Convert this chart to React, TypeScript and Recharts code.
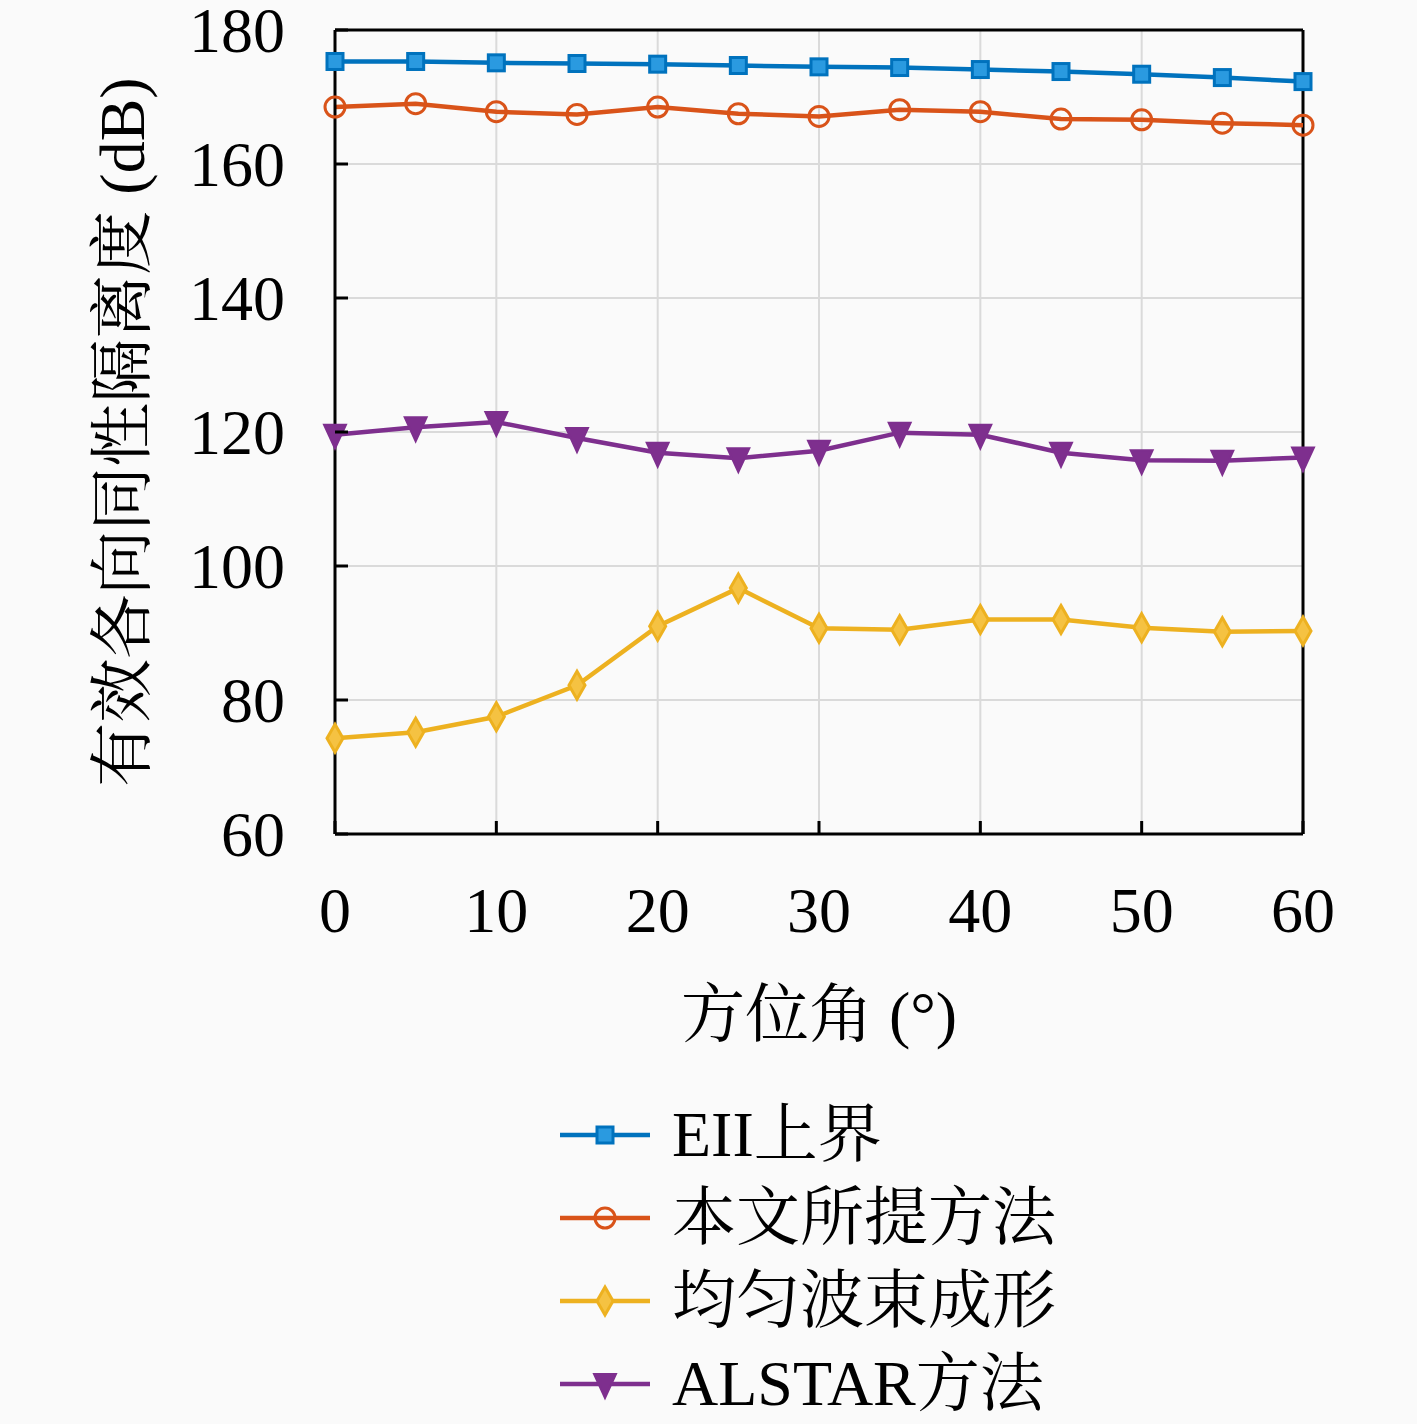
import React from 'react';
import { CartesianGrid, Line, LineChart, ReferenceLine, XAxis, YAxis } from 'recharts';

const angles = [0, 5, 10, 15, 20, 25, 30, 35, 40, 45, 50, 55, 60];
const eiiBound = [175.3, 175.3, 175.1, 175.0, 174.9, 174.7, 174.5, 174.4, 174.1, 173.8, 173.4, 172.9, 172.3];
const proposed = [168.5, 169.0, 167.8, 167.4, 168.5, 167.5, 167.1, 168.1, 167.8, 166.7, 166.6, 166.1, 165.8];
const uniformBeam = [74.3, 75.2, 77.5, 82.2, 91.0, 96.7, 90.7, 90.5, 92.0, 92.0, 90.8, 90.2, 90.3];
const alstar = [119.6, 120.7, 121.5, 119.1, 116.9, 116.1, 117.2, 119.9, 119.6, 116.9, 115.8, 115.7, 116.2];

const xTicks = [0, 10, 20, 30, 40, 50, 60];
const yTicks = [60, 80, 100, 120, 140, 160, 180];

const seriesNames = ['EII上界', '本文所提方法', '均匀波束成形', 'ALSTAR方法'];
const seriesKeys = ['eii', 'prop', 'uni', 'alstar'];
const seriesColors = ['#0072BD', '#D95319', '#EDB120', '#7E2F8E'];
const seriesShapes = ['square', 'circle', 'diamond', 'triangle'];

const data = angles.map((a, i) => ({
  angle: a,
  eii: eiiBound[i],
  prop: proposed[i],
  uni: uniformBeam[i],
  alstar: alstar[i],
}));

const SERIF = "'Liberation Serif', 'Noto Serif CJK SC', 'Noto Sans CJK SC', serif";
const W = 1417;
const H = 1424;

function Marker({ shape, cx, cy, color }: { shape: string; cx: number; cy: number; color: string }) {
  if (cx == null || cy == null) return null;
  if (shape === 'square') {
    return <rect x={cx - 8} y={cy - 8} width={16} height={16} fill="#2a9ae0" stroke={color} strokeWidth={3} />;
  }
  if (shape === 'circle') {
    return <circle cx={cx} cy={cy} r={10} fill="none" stroke={color} strokeWidth={3} />;
  }
  if (shape === 'diamond') {
    const d = `M${cx},${cy - 14} L${cx + 8},${cy} L${cx},${cy + 14} L${cx - 8},${cy} Z`;
    return <path d={d} fill="#f5c242" stroke={color} strokeWidth={3} />;
  }
  const t = `M${cx - 11},${cy - 10} L${cx + 11},${cy - 10} L${cx},${cy + 14} Z`;
  return <path d={t} fill={color} stroke={color} strokeWidth={2} />;
}

const YTick = (props: any) => {
  const { x, y, payload } = props;
  return (
    <g>
      <line x1={x} y1={y} x2={x + 13} y2={y} stroke="#000" strokeWidth={3} />
      <text x={x - 50} y={y + 22} textAnchor="end" fontFamily={SERIF} fontSize={64} fill="#000">
        {payload.value}
      </text>
    </g>
  );
};

const XTick = (props: any) => {
  const { x, y, payload } = props;
  return (
    <g>
      <line x1={x} y1={y} x2={x} y2={y - 13} stroke="#000" strokeWidth={3} />
      <text x={x} y={y + 98} textAnchor="middle" fontFamily={SERIF} fontSize={64} fill="#000">
        {payload.value}
      </text>
    </g>
  );
};

export default function App() {
  return (
    <div style={{ position: 'absolute', left: 0, top: 0, width: W, height: H, background: '#fafafa' }}>
      <LineChart width={W} height={H} data={data} margin={{ top: 30, right: 114, bottom: 530, left: 255 }}>
        <CartesianGrid stroke="#dadada" strokeWidth={2} />
        <XAxis
          dataKey="angle"
          type="number"
          domain={[0, 60]}
          ticks={xTicks}
          height={60}
          tickSize={0}
          tickMargin={0}
          axisLine={{ stroke: '#000', strokeWidth: 3 }}
          tickLine={false}
          tick={<XTick />}
          interval={0}
          label={(p: any) => {
            const vb = p.viewBox;
            return (
              <text x={vb.x + vb.width / 2} y={1036} textAnchor="middle" fontFamily={SERIF} fontSize={64} fill="#000">
                方位角 (°)
              </text>
            );
          }}
        />
        <YAxis
          type="number"
          domain={[60, 180]}
          ticks={yTicks}
          width={80}
          tickSize={0}
          tickMargin={0}
          axisLine={{ stroke: '#000', strokeWidth: 3 }}
          tickLine={false}
          tick={<YTick />}
          interval={0}
          label={(p: any) => {
            const vb = p.viewBox;
            const cy = vb.y + vb.height / 2;
            return (
              <text x={122} y={cy} transform={`rotate(-90 122 ${cy})`} textAnchor="middle" dominantBaseline="central" fontFamily={SERIF} fontSize={64} fill="#000">
                有效各向同性隔离度 (dB)
              </text>
            );
          }}
        />
        <ReferenceLine y={180} stroke="#000" strokeWidth={3} ifOverflow="visible" />
        <ReferenceLine x={60} stroke="#000" strokeWidth={3} ifOverflow="visible" />
        {seriesKeys.map((k, i) => (
          <Line
            key={k}
            dataKey={k}
            name={seriesNames[i]}
            type="linear"
            stroke={seriesColors[i]}
            strokeWidth={4.5}
            isAnimationActive={false}
            dot={(p: any) => <Marker key={`${k}-${p.index}`} shape={seriesShapes[i]} cx={p.cx} cy={p.cy} color={seriesColors[i]} />}
            activeDot={false}
          />
        ))}
      </LineChart>
      <div style={{ position: 'absolute', left: 556, top: 1093 }}>
        {seriesNames.map((n, i) => (
          <div key={n} style={{ display: 'flex', alignItems: 'center', height: 83 }}>
            <svg width={100} height={40} style={{ marginRight: 16 }}>
              <line x1={4} y1={20} x2={94} y2={20} stroke={seriesColors[i]} strokeWidth={4.5} />
              <Marker shape={seriesShapes[i]} cx={49} cy={20} color={seriesColors[i]} />
            </svg>
            <span style={{ fontFamily: SERIF, fontSize: 64, color: '#000', lineHeight: 1 }}>{n}</span>
          </div>
        ))}
      </div>
    </div>
  );
}
